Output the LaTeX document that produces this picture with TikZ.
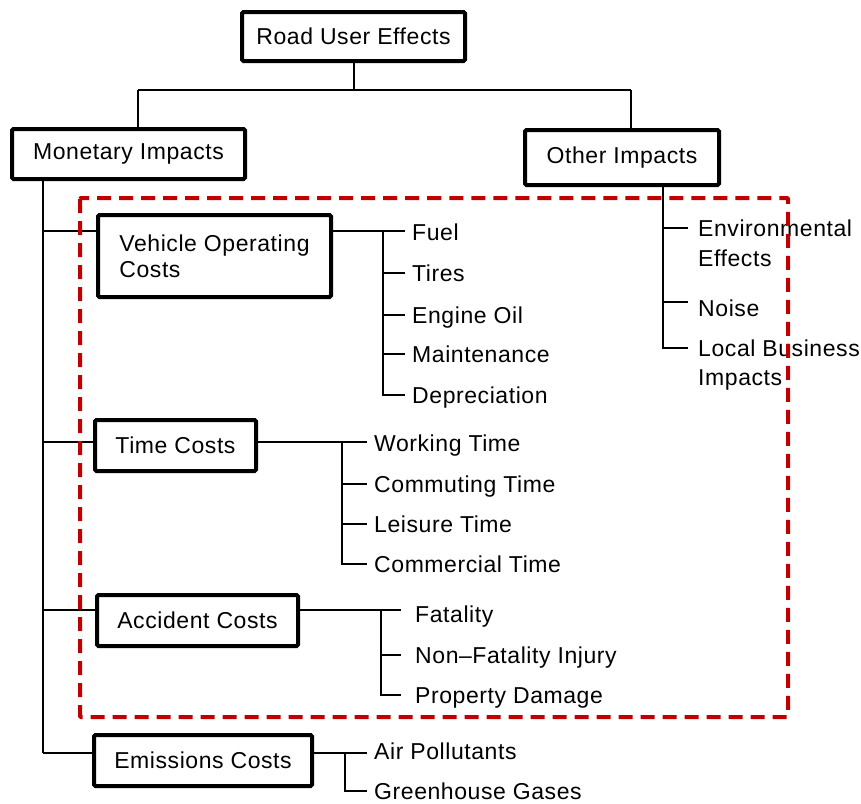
\documentclass[tikz,border=0pt]{standalone}
\usepackage{fontspec}
\setmainfont{Liberation Sans}[LetterSpace=2.5]
\definecolor{dashred}{RGB}{192,0,0}
\newcommand{\lbfont}{\fontsize{23}{26}\selectfont}
\begin{document}
\begin{tikzpicture}[x=1pt,y=-1pt,
  box/.style={draw, line width=4pt, rounded corners=1.5pt, inner sep=0pt, font=\lbfont, align=center},
  ln/.style={line width=2pt},
  lbl/.style={anchor=west, inner sep=0pt, font=\lbfont, text height=16.5pt, text depth=0pt}]
\useasboundingbox (0,0) rectangle (861,803);
% boxes
\node[box, minimum width=223pt, minimum height=49pt] (rue) at (353.5,36.5) {Road User Effects};
\node[box, minimum width=233pt, minimum height=50pt] (mon) at (128.5,154) {Monetary Impacts};
\node[box, minimum width=194pt, minimum height=55pt] (oth) at (622,157.5) {Other Impacts};
\node[box, minimum width=233pt, minimum height=82pt, align=left] (voc) at (214.5,256) {Vehicle Operating\\Costs};
\node[box, minimum width=161pt, minimum height=51pt] (tim) at (175.5,445.5) {Time Costs};
\node[box, minimum width=201pt, minimum height=51pt] (acc) at (197.5,620.5) {Accident Costs};
\node[box, minimum width=218pt, minimum height=51pt] (emi) at (203,760.5) {Emissions Costs};
% top bus
\coordinate (busL) at (138,90);
\coordinate (busR) at (631,90);
\draw[ln] (rue.south) -- (rue.south |- busL);
\draw[ln] (busL) -- (busR);
\draw[ln] (busL) -- (busL |- mon.north);
\draw[ln] (busR) -- (busR |- oth.north);
% monetary spine
\coordinate (msp) at (43,753);
\draw[ln] (msp |- mon.south) -- (msp);
\coordinate (yvoc) at (0,231);
\coordinate (ytim) at (0,442);
\coordinate (yacc) at (0,610);
\draw[ln] (msp |- yvoc) -- (voc.west |- yvoc);
\draw[ln] (msp |- ytim) -- (tim.west |- ytim);
\draw[ln] (msp |- yacc) -- (acc.west |- yacc);
\draw[ln] (msp) -- (emi.west |- msp);
% VOC children
\node[lbl] (fuel) at (412,232) {Fuel};
\node[lbl] (tires) at (412,273) {Tires};
\node[lbl] (oil) at (412,315) {Engine Oil};
\node[lbl] (mnt) at (412,354) {Maintenance};
\node[lbl] (dep) at (412,395) {Depreciation};
\coordinate (vsp) at (383,231);
\draw[ln] (voc.east |- yvoc) -- ([xshift=-7pt]fuel.west |- yvoc);
\draw[ln] (vsp) -- (vsp |- dep.west) -- ([xshift=-7pt]dep.west);
\foreach \n in {tires,oil,mnt} \draw[ln] (vsp |- \n.west) -- ([xshift=-7pt]\n.west);
% Time children
\node[lbl] (work) at (374,443) {Working Time};
\node[lbl] (comm) at (374,484) {Commuting Time};
\node[lbl] (leis) at (374,524) {Leisure Time};
\node[lbl] (comt) at (374,564) {Commercial Time};
\coordinate (tsp) at (342,442);
\draw[ln] (tim.east |- ytim) -- ([xshift=-7pt]work.west |- ytim);
\draw[ln] (tsp) -- (tsp |- comt.west) -- ([xshift=-7pt]comt.west);
\foreach \n in {comm,leis} \draw[ln] (tsp |- \n.west) -- ([xshift=-7pt]\n.west);
% Accident children
\node[lbl] (fat) at (415,614) {Fatality};
\node[lbl] (nfi) at (415,655) {Non--Fatality Injury};
\node[lbl] (prop) at (415,695) {Property Damage};
\coordinate (asp) at (381,610);
\draw[ln] (acc.east |- yacc) -- ([xshift=-14pt]fat.west |- yacc);
\draw[ln] (asp) -- (asp |- prop.west) -- ([xshift=-14pt]prop.west);
\draw[ln] (asp |- nfi.west) -- ([xshift=-14pt]nfi.west);
% Emission children
\node[lbl] (air) at (374,751) {Air Pollutants};
\node[lbl] (ghg) at (374,791) {Greenhouse Gases};
\coordinate (esp) at (345,753);
\draw[ln] (emi.east |- msp) -- ([xshift=-7pt]air.west |- msp);
\draw[ln] (esp) -- (esp |- ghg.west) -- ([xshift=-7pt]ghg.west);
% Other children
\node[lbl] (env) at (698,228) {Environmental};
\node[lbl] (env2) at (698,258) {Effects};
\node[lbl] (noise) at (698,308) {Noise};
\node[lbl] (lbi) at (698,348) {Local Business};
\node[lbl] (lbi2) at (698,377) {Impacts};
\coordinate (osp) at (663,228);
\draw[ln] (osp |- oth.south) -- (osp |- lbi.west) -- ([xshift=-10pt]lbi.west);
\draw[ln] (osp |- env.west) -- ([xshift=-10pt]env.west);
\draw[ln] (osp |- 0,302) -- ([xshift=-10pt]noise.west |- 0,302);
% red dashed frame
\draw[dashred, line width=4pt, dash pattern=on 14pt off 8pt, rounded corners=1pt] (80,198) rectangle (788,717);
\end{tikzpicture}
\end{document}
